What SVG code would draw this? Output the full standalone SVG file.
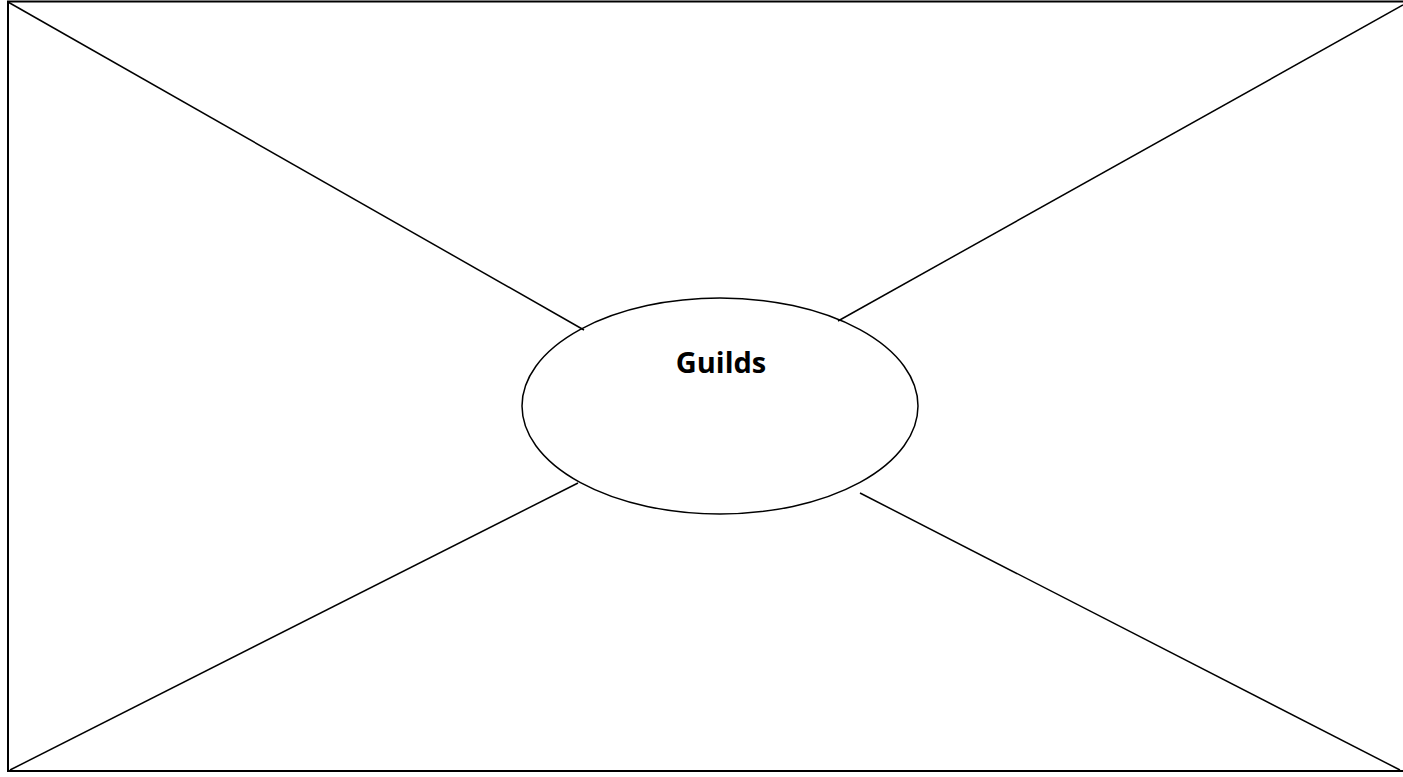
<svg xmlns="http://www.w3.org/2000/svg" width="1403" height="777" viewBox="0 0 1403 777">
<style>
.ln{stroke:#000;stroke-width:1.5;fill:none}
.lbl{font-family:"Open Sans","Liberation Sans",sans-serif;font-weight:bold;font-size:29px;fill:#000}
</style>
<rect width="1403" height="777" fill="#fff"/>
<g id="frame"><rect x="8" y="1.5" width="1400" height="769.5" fill="none" stroke="#000" stroke-width="2"/></g>
<g id="connectors">
<line class="ln" x1="8" y1="2" x2="584" y2="330"/>
<line class="ln" x1="1403" y1="5" x2="838" y2="321"/>
<line class="ln" x1="10" y1="770" x2="578" y2="483"/>
<line class="ln" x1="860" y1="493" x2="1400" y2="770"/>
</g>
<g id="guilds">
<ellipse class="ln" cx="720" cy="406" rx="198" ry="108" fill="#fff"/>
<text class="lbl" x="721" y="373" text-anchor="middle">Guilds</text>
</g>
</svg>
